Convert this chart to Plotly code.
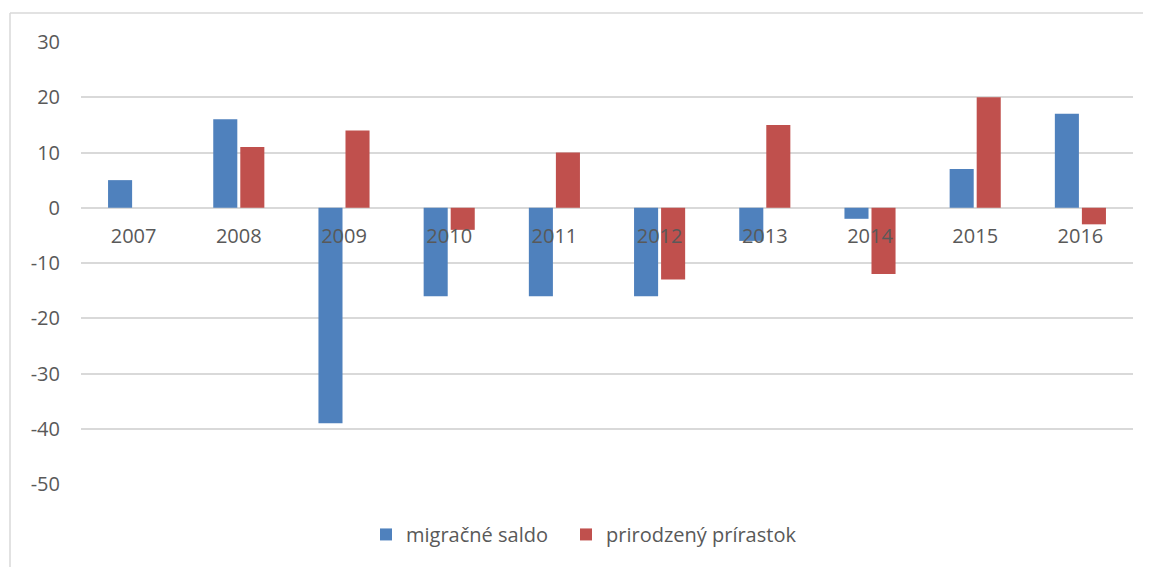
import plotly.graph_objects as go

years = ["2007", "2008", "2009", "2010", "2011", "2012", "2013", "2014", "2015", "2016"]
migracne_saldo = [5, 16, -39, -16, -16, -16, -6, -2, 7, 17]
prirodzeny_prirastok = [0, 11, 14, -4, 10, -13, 15, -12, 20, -3]
y_ticks = [30, 20, 10, 0, -10, -20, -30, -40, -50]

FONT = "Open Sans, Liberation Sans, sans-serif"
TXT = "#595959"

fig = go.Figure()
fig.add_trace(go.Bar(name="migračné saldo", x=years, y=migracne_saldo,
                     marker=dict(color="#4F81BD", line=dict(width=0)), legend="legend"))
fig.add_trace(go.Bar(name="prirodzený prírastok", x=years, y=prirodzeny_prirastok,
                     marker=dict(color="#C0504D", line=dict(width=0)), legend="legend2"))

W, H = 1143, 559
L, R, T, B = 73, 18, 34, 83
pw, ph = W - L - R, H - T - B
ymin, ymax = -50, 30
leg_common = dict(orientation="h", xanchor="left", y=-0.07, yanchor="top",
                  font=dict(family=FONT, size=20, color=TXT), itemwidth=30,
                  bgcolor="rgba(0,0,0,0)")
fig.update_layout(
    width=W, height=H,
    margin=dict(l=L, r=R, t=T, b=B, autoexpand=False),
    paper_bgcolor="white", plot_bgcolor="white",
    barmode="group", bargap=0.486, bargroupgap=0.11,
    font=dict(family=FONT, size=20, color=TXT),
    showlegend=True,
    legend=dict(x=(358 - L) / pw, **leg_common),
    legend2=dict(x=(558 - L) / pw, **leg_common),
    xaxis=dict(type="category", anchor="free",
               position=(0 - ymin) / (ymax - ymin),
               showline=False, showgrid=False, ticks="", ticklabelstandoff=14,
               tickfont=dict(family=FONT, size=20, color=TXT)),
    yaxis=dict(range=[ymin, ymax], domain=[0, 1], tickvals=y_ticks,
               ticktext=[str(v) for v in y_ticks],
               showgrid=True, gridcolor="#D9D9D9", gridwidth=1.5,
               zeroline=True, zerolinecolor="#D9D9D9", zerolinewidth=1.5,
               showline=False, ticks="", ticklabelstandoff=20,
               tickfont=dict(family=FONT, size=20, color=TXT)),
)

# chart border (top and left edges visible)
bx, by = 2, 5
fig.add_shape(type="line", xref="paper", yref="paper",
              x0=(bx - L) / pw, x1=(W - L) / pw,
              y0=(T + ph - by) / ph, y1=(T + ph - by) / ph,
              line=dict(color="#D9D9D9", width=1.5))
fig.add_shape(type="line", xref="paper", yref="paper",
              x0=(bx - L) / pw, x1=(bx - L) / pw,
              y0=(T + ph - by) / ph, y1=(T + ph - H) / ph,
              line=dict(color="#D9D9D9", width=1.5))

fig.write_html("out.html")
